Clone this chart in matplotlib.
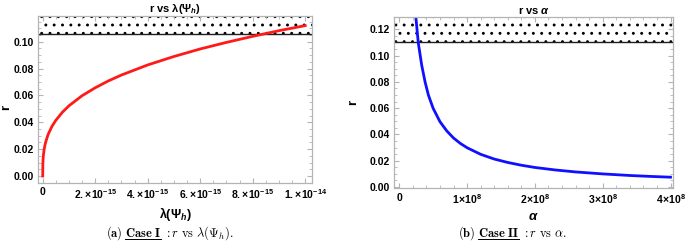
import matplotlib
matplotlib.use("Agg")
import matplotlib.pyplot as plt
from matplotlib.ticker import AutoMinorLocator, FixedLocator
from matplotlib.lines import Line2D

plt.rcParams['font.family'] = ['Liberation Sans', 'DejaVu Sans']
plt.rcParams['mathtext.fontset'] = 'custom'
plt.rcParams['mathtext.rm'] = 'Liberation Sans:bold'
plt.rcParams['mathtext.bf'] = 'Liberation Sans:bold'
plt.rcParams['mathtext.it'] = 'Liberation Sans:bold:italic'
plt.rcParams['hatch.linewidth'] = 0.9
plt.rcParams['hatch.color'] = 'black'

# case I: r vs lambda(Psi_h), lambda in units of 1e-15
lam = [0, 0.005, 0.02, 0.05, 0.1, 0.2, 0.35, 0.5, 0.75, 1, 1.5, 2, 2.5, 3,
       4, 5, 6, 7, 8, 9, 10]
r_lam = [0, 0.0090, 0.0143, 0.0194, 0.0244, 0.0307, 0.0369, 0.0415, 0.0475,
         0.0523, 0.0598, 0.0657, 0.0708, 0.0752, 0.0827, 0.0890, 0.0946,
         0.0995, 0.1040, 0.1082, 0.1120]
r_bound_1 = 0.106

# case II: r vs alpha, alpha in units of 1e8
alpha = [0.235, 0.25, 0.28, 0.33, 0.38, 0.43, 0.5, 0.6, 0.7, 0.8, 0.9, 1.0,
         1.2, 1.4, 1.6, 1.8, 2.0, 2.3, 2.6, 3.0, 3.4, 3.7, 4.0]
r_alpha = [0.134, 0.126, 0.1097, 0.0928, 0.080, 0.0698, 0.0598, 0.0497,
           0.0427, 0.0373, 0.0332, 0.0299, 0.0249, 0.0213, 0.0187, 0.0166,
           0.0149, 0.0130, 0.0115, 0.0100, 0.0088, 0.0081, 0.0075]
r_bound_2 = 0.110

xt1 = [0, 2, 4, 6, 8, 10]
xt1_labels = ['0', r'$2.\!\times\!10^{-15}$', r'$4.\!\times\!10^{-15}$',
              r'$6.\!\times\!10^{-15}$', r'$8.\!\times\!10^{-15}$',
              r'$1.\!\times\!10^{-14}$']
xt2 = [0, 1, 2, 3, 4]
xt2_labels = ['0', r'$1\!\times\!10^{8}$', r'$2\!\times\!10^{8}$',
              r'$3\!\times\!10^{8}$', r'$4\!\times\!10^{8}$']

fig = plt.figure(figsize=(6.85, 2.43), dpi=100)
ax1 = fig.add_axes([0.0555, 0.2469, 0.3996, 0.687])
ax2 = fig.add_axes([0.5756, 0.2243, 0.4069, 0.707])

frame = '#b4b4b4'


def style(ax, xminor):
    for s in ax.spines.values():
        s.set_color(frame)
        s.set_linewidth(0.9)
    ax.tick_params(which='both', direction='in', top=True, right=True,
                   color=frame, labelsize=7.5, pad=3)
    ax.tick_params(which='major', length=3.5)
    ax.tick_params(which='minor', length=2)
    ax.xaxis.set_minor_locator(AutoMinorLocator(xminor))
    ax.yaxis.set_minor_locator(AutoMinorLocator(4))
    for lab in ax.get_xticklabels() + ax.get_yticklabels():
        lab.set_fontweight('bold')


# left panel
ax1.set_xlim(-0.179, 10.25)
ax1.set_ylim(-0.0052, 0.1191)
ax1.fill_between([-0.179, 10.25], r_bound_1, 0.1191, facecolor='none',
                 edgecolor='black', linewidth=0, hatch='..')
ax1.axhline(r_bound_1, color='#202020', lw=1.0)
ax1.plot(lam, r_lam, color='#ff1a1a', lw=2)
ax1.xaxis.set_major_locator(FixedLocator(xt1))
ax1.set_xticklabels(xt1_labels)
ax1.set_yticks([0, 0.02, 0.04, 0.06, 0.08, 0.10])
ax1.set_yticklabels(['0.00', '0.02', '0.04', '0.06', '0.08', '0.10'])
style(ax1, 4)
ax1.set_title(r'r vs $\mathbf{\lambda(\Psi_{\mathit{h}})}$', fontsize=8,
              fontweight='bold', pad=2)
ax1.set_xlabel(r'$\mathbf{\lambda(\Psi_{\mathit{h}})}$', fontsize=9,
               labelpad=3)
ax1.set_ylabel('r', fontsize=9.5, fontweight='bold')
ax1.yaxis.set_label_coords(-0.095, 0.45)

# right panel
ax2.set_xlim(-0.074, 4.037)
ax2.set_ylim(-0.0011, 0.1296)
ax2.fill_between([-0.074, 4.037], r_bound_2, 0.1296, facecolor='none',
                 edgecolor='black', linewidth=0, hatch='..')
ax2.axhline(r_bound_2, color='#202020', lw=1.0)
ax2.plot(alpha, r_alpha, color='#1010ff', lw=2)
ax2.xaxis.set_major_locator(FixedLocator(xt2))
ax2.set_xticklabels(xt2_labels)
ax2.set_yticks([0, 0.02, 0.04, 0.06, 0.08, 0.10, 0.12])
ax2.set_yticklabels(['0.00', '0.02', '0.04', '0.06', '0.08', '0.10', '0.12'])
style(ax2, 5)
ax2.set_title(r'r vs $\mathit{\alpha}$', fontsize=8, fontweight='bold',
              pad=2)
ax2.set_xlabel(r'$\mathit{\alpha}$', fontsize=9.5, labelpad=3)
ax2.set_ylabel('r', fontsize=9.5, fontweight='bold')
ax2.yaxis.set_label_coords(-0.125, 0.5)


def caption(xc, y, tag, case, rest, size=9, gap=3):
    parts = [tag, case, rest]
    texts = [fig.text(0, y, p, fontsize=size, math_fontfamily='cm',
                      va='baseline') for p in parts]
    fig.canvas.draw()
    rend = fig.canvas.get_renderer()
    W = fig.bbox.width
    widths = [t.get_window_extent(rend).width for t in texts]
    total = sum(widths) + 2 * gap
    x = xc * W - total / 2
    starts = []
    for t, w in zip(texts, widths):
        t.set_x(x / W)
        starts.append(x)
        x += w + gap
    x0 = starts[1] / W
    x1 = (starts[1] + widths[1]) / W
    yl = y - 2.5 / fig.bbox.height
    fig.add_artist(Line2D([x0, x1], [yl, yl], color='black', lw=0.7,
                          transform=fig.transFigure))


caption(0.248, 0.025, r'$\mathbf{(a)}$', r'$\mathbf{Case\ I}$',
        r'$:r\ \mathrm{vs}\ \lambda(\Psi_h).$')
caption(0.748, 0.025, r'$\mathbf{(b)}$', r'$\mathbf{Case\ II}$',
        r'$:r\ \mathrm{vs}\ \alpha.$')

fig.savefig('out.png', dpi=100, facecolor='white')
